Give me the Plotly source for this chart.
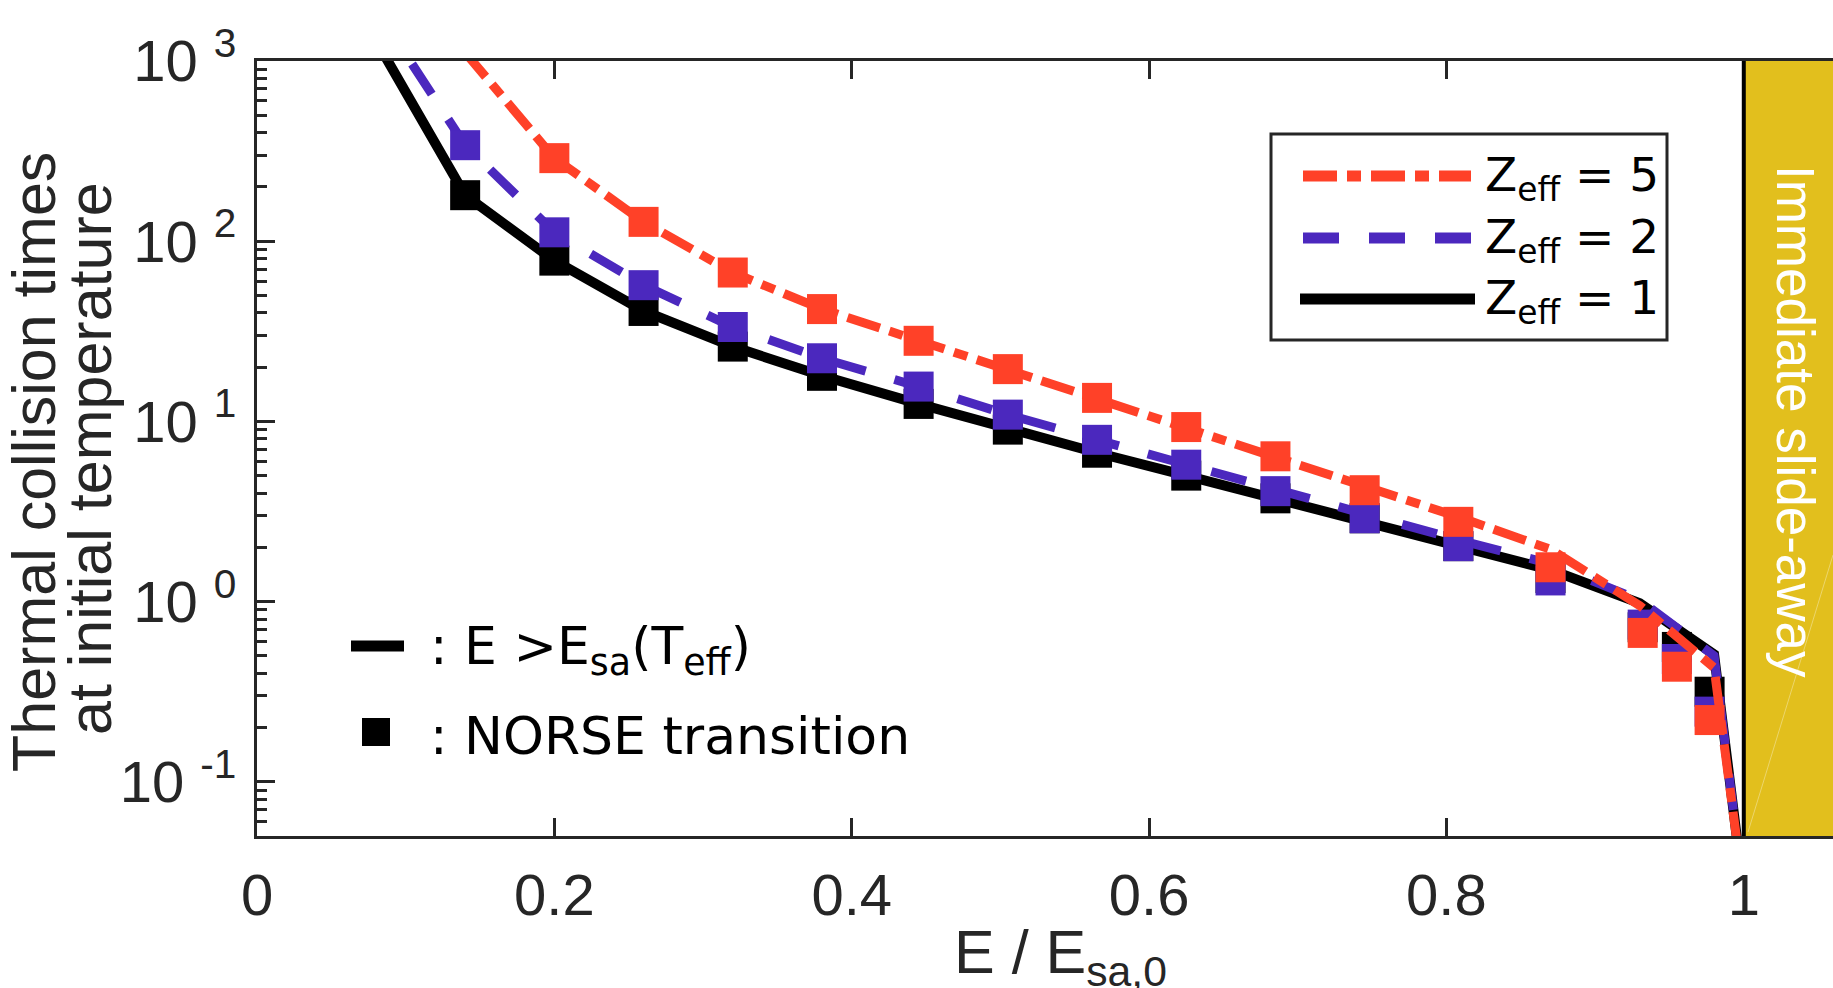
import plotly.graph_objects as go

# ---- data -------------------------------------------------------------
# NORSE transition points (E/E_sa,0 and thermal collision times)
x_norse = [0.14, 0.20, 0.26, 0.32, 0.38, 0.445, 0.505, 0.565, 0.625, 0.685,
           0.745, 0.808, 0.87, 0.932, 0.955, 0.977]
norse_z1 = [180, 78, 41, 26, 17.9, 12.5, 9.0, 6.7, 5.0, 3.74,
            2.9, 2.03, 1.35, 0.72, 0.56, 0.316]
norse_z2 = [341, 112, 57, 33.4, 22.4, 15.6, 10.9, 7.9, 5.75, 4.1,
            2.9, 2.03, 1.31, 0.745, 0.48, 0.245]
x_norse_z5 = [0.20, 0.26, 0.32, 0.38, 0.445, 0.505, 0.565, 0.625, 0.685,
              0.745, 0.808, 0.87, 0.932, 0.955, 0.977]
norse_z5 = [289, 128, 67, 42, 28, 19.5, 13.5, 9.3, 6.4,
            4.15, 2.77, 1.55, 0.67, 0.435, 0.22]

# E > E_sa(T_eff) curves
x_curve = [0.08, 0.14, 0.20, 0.26, 0.32, 0.38, 0.445, 0.505, 0.565, 0.625,
           0.685, 0.745, 0.808, 0.87, 0.93, 0.98, 1.0]
curve_z1 = [1300, 180, 78, 41, 26, 17.9, 12.5, 9.0, 6.7, 5.0,
            3.74, 2.8, 2.05, 1.5, 0.98, 0.51, 0.024]
curve_z2 = [1950, 341, 112, 57, 33.4, 22.4, 15.6, 10.9, 7.9, 5.75,
            4.1, 3.0, 2.2, 1.62, 1.02, 0.5, 0.024]
curve_z5 = [4300, 1120, 289, 128, 67, 42, 28, 19.5, 13.5, 9.3,
            6.4, 4.3, 2.95, 1.95, 0.95, 0.43, 0.024]

x_ticks = [0, 0.2, 0.4, 0.6, 0.8, 1]
x_tick_text = ["0", "0.2", "0.4", "0.6", "0.8", "1"]
y_ticks = [0.1, 1, 10, 100, 1000]
y_tick_text = ["10 <sup>-1</sup>", "10 <sup>0</sup>", "10 <sup>1</sup>",
               "10 <sup>2</sup>", "10 <sup>3</sup>"]
legend_labels = ["Z<sub>eff</sub> = 5", "Z<sub>eff</sub> = 2", "Z<sub>eff</sub> = 1"]

# ---- style ------------------------------------------------------------
W, H = 1833, 988
ML, MR, MT, MB = 257, 0, 61, 152
PW, PH = W - ML - MR, H - MT - MB

RED = "#FF4128"
BLUE = "#4B28BE"
BLACK = "#000000"
YELLOW = "#E2BF1D"
AXIS = "#262626"
RED_DASH = "34px,10px,14px,10px"
BLUE_DASH = "36px,30px"

TICK_FONT = dict(family="Liberation Sans, Arial, sans-serif", size=58, color=AXIS)
LABEL_FONT = dict(family="Liberation Sans, Arial, sans-serif", size=61, color=AXIS)
KEY_FONT = dict(family="DejaVu Sans, sans-serif", size=52, color="black")


def px_x(px):
    return (px - ML) / PW


def px_y(py):
    return (MT + PH - py) / PH


fig = go.Figure()

series = [
    (x_curve, curve_z1, x_norse, norse_z1, BLACK, "solid", 10),
    (x_curve, curve_z2, x_norse, norse_z2, BLUE, BLUE_DASH, 9),
    (x_curve, curve_z5, x_norse_z5, norse_z5, RED, RED_DASH, 9),
]
for xc, yc, xm, ym, col, dash, lw in series:
    fig.add_trace(go.Scatter(x=xc, y=yc, mode="lines",
                             line=dict(color=col, width=lw, dash=dash),
                             showlegend=False, hoverinfo="skip"))
    fig.add_trace(go.Scatter(x=xm, y=ym, mode="markers",
                             marker=dict(symbol="square", size=30, color=col,
                                         line=dict(width=0)),
                             showlegend=False))

shapes = []
# slide-away region beyond E = E_sa,0
shapes.append(dict(type="rect", xref="x", yref="paper", x0=1, x1=1.06, y0=0, y1=1,
                   fillcolor=YELLOW, line=dict(width=0), layer="below"))
shapes.append(dict(type="line", xref="paper", yref="paper",
                   x0=px_x(1748), x1=px_x(1833), y0=px_y(832), y1=px_y(555),
                   line=dict(color="rgba(255,255,255,0.35)", width=1)))
shapes.append(dict(type="line", xref="x", yref="paper", x0=1, x1=1, y0=0, y1=1,
                   line=dict(color=BLACK, width=4)))

# legend box
shapes.append(dict(type="rect", xref="paper", yref="paper",
                   x0=px_x(1271), x1=px_x(1667), y0=px_y(340), y1=px_y(134),
                   fillcolor="white", line=dict(color=AXIS, width=3)))
legend_rows = [(176, RED, RED_DASH, 1303, 1471),
               (238, BLUE, BLUE_DASH, 1303, 1471),
               (299, BLACK, "solid", 1300, 1475)]
annotations = []
for (ry, col, dash, xa, xb), lab in zip(legend_rows, legend_labels):
    shapes.append(dict(type="line", xref="paper", yref="paper",
                       x0=px_x(xa), x1=px_x(xb), y0=px_y(ry), y1=px_y(ry),
                       line=dict(color=col, width=11, dash=dash)))
    annotations.append(dict(text=lab, xref="paper", yref="paper",
                            x=px_x(1483), y=px_y(ry + 2), xanchor="left", yanchor="middle",
                            showarrow=False, font=dict(KEY_FONT, size=47)))

# key for line / marker meaning
shapes.append(dict(type="line", xref="paper", yref="paper",
                   x0=px_x(351), x1=px_x(404), y0=px_y(646), y1=px_y(646),
                   line=dict(color=BLACK, width=11)))
shapes.append(dict(type="rect", xref="paper", yref="paper",
                   x0=px_x(362), x1=px_x(390), y0=px_y(746), y1=px_y(718),
                   fillcolor=BLACK, line=dict(width=0)))
annotations.append(dict(text=": E >E<sub>sa</sub>(T<sub>eff</sub>)", xref="paper", yref="paper",
                        x=px_x(428), y=px_y(650), xanchor="left", yanchor="middle",
                        showarrow=False, font=KEY_FONT))
annotations.append(dict(text=": NORSE transition", xref="paper", yref="paper",
                        x=px_x(428), y=px_y(736), xanchor="left", yanchor="middle",
                        showarrow=False, font=KEY_FONT))

# slide-away label
annotations.append(dict(text="Immediate slide-away", xref="paper", yref="paper",
                        x=px_x(1796), y=px_y(421), xanchor="center", yanchor="middle",
                        textangle=90, showarrow=False,
                        font=dict(family="Liberation Sans, Arial, sans-serif",
                                  size=53, color="white")))

# axis titles
annotations.append(dict(text="Thermal collision times", xref="paper", yref="paper",
                        x=px_x(34), y=px_y(462), xanchor="center", yanchor="middle",
                        textangle=-90, showarrow=False, font=LABEL_FONT))
annotations.append(dict(text="at initial temperature", xref="paper", yref="paper",
                        x=px_x(90), y=px_y(459), xanchor="center", yanchor="middle",
                        textangle=-90, showarrow=False, font=LABEL_FONT))
annotations.append(dict(text="E / E<sub>sa,0</sub>", xref="paper", yref="paper",
                        x=px_x(1060), y=px_y(916), xanchor="center", yanchor="top",
                        showarrow=False, font=LABEL_FONT))

minor_y = [m * 10 ** e for e in range(-2, 3) for m in range(2, 10)]
minor_y = [v for v in minor_y if 0.05 <= v <= 1000]

fig.update_layout(
    width=W, height=H,
    margin=dict(l=ML, r=MR, t=MT, b=MB, pad=0),
    paper_bgcolor="white", plot_bgcolor="white",
    shapes=shapes, annotations=annotations,
    xaxis=dict(range=[0, 1.06], tickmode="array", tickvals=x_ticks, ticktext=x_tick_text,
               ticks="inside", ticklen=18, tickwidth=3, tickcolor=AXIS,
               showline=True, linewidth=3, linecolor=AXIS, mirror="ticks",
               showgrid=False, zeroline=False, tickfont=TICK_FONT,
               ticklabelstandoff=6),
    yaxis=dict(type="log", range=[-1.30103, 3], tickmode="array", tickvals=y_ticks,
               ticktext=y_tick_text, ticks="inside", ticklen=18, tickwidth=3,
               tickcolor=AXIS, showline=True, linewidth=3, linecolor=AXIS,
               mirror=False, showgrid=False, zeroline=False, tickfont=TICK_FONT,
               ticklabelstandoff=6,
               minor=dict(tickmode="array", tickvals=minor_y, ticks="inside",
                          ticklen=10, tickwidth=3, tickcolor=AXIS, showgrid=False)),
)

fig.write_html("out.html")
